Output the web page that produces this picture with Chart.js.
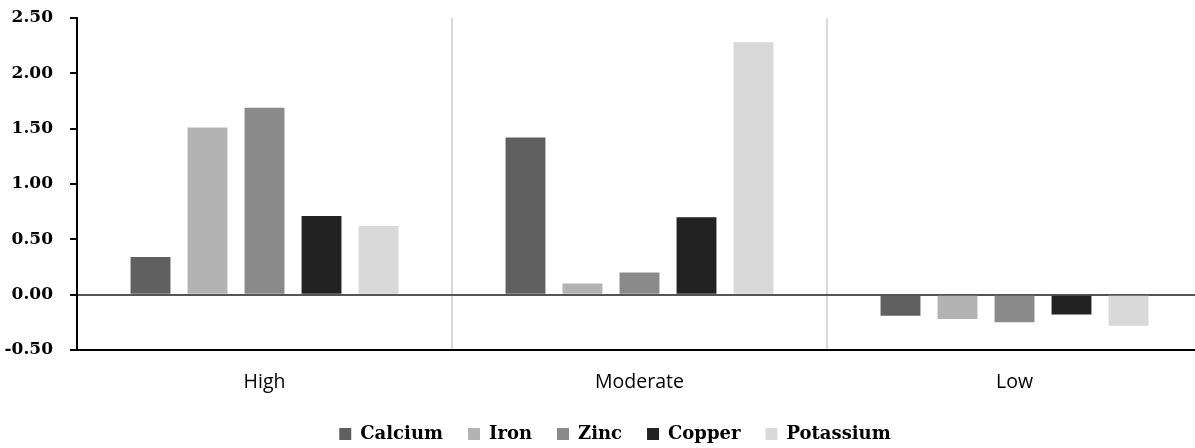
<!DOCTYPE html>
<html>
<head>
<meta charset="utf-8">
<script src="https://cdn.jsdelivr.net/npm/chart.js@4/dist/chart.umd.min.js"></script>
<style>
  html, body { margin: 0; padding: 0; background: #fff; overflow: hidden; }
  /* the original plot runs a few pixels past the right edge of the picture */
  #wrap { width: 1202px; height: 448px; }
</style>
</head>
<body>
<div id="wrap"><canvas id="myChart"></canvas></div>
<script>
// categories and values
const categories = ["High", "Moderate", "Low"];
const seriesNames = ["Calcium", "Iron", "Zinc", "Copper", "Potassium"];
const calcium = [0.34, 1.42, -0.19];
const iron = [1.51, 0.10, -0.22];
const zinc = [1.69, 0.20, -0.25];
const copper = [0.71, 0.70, -0.18];
const potassium = [0.62, 2.28, -0.28];
const yTicks = [-0.5, 0, 0.5, 1, 1.5, 2, 2.5];

const colors = ["#606060", "#b3b3b3", "#8a8a8a", "#222222", "#d9d9d9"];
const values = [calcium, iron, zinc, copper, potassium];

const datasets = seriesNames.map((name, i) => ({
    label: name,
    data: values[i],
    backgroundColor: colors[i],
    borderWidth: 0,
    categoryPercentage: 0.76,
    barPercentage: 0.70
}));

// legend in the original sits a bit right of the canvas centre
const legendShift = {
    id: "legendShift",
    afterLayout(chart) {
        if (chart.legend) {
            chart.legend.left += 14;
            chart.legend.right += 14;
        }
    }
};

const ctx = document.getElementById("myChart").getContext("2d");
const myChart = new Chart(ctx, {
    type: "bar",
    data: { labels: categories, datasets: datasets },
    plugins: [legendShift],
    options: {
        responsive: true,
        maintainAspectRatio: false,
        animation: false,
        layout: { padding: { top: 18, left: 0, right: 0, bottom: -5 } },
        plugins: {
            tooltip: { enabled: false },
            legend: {
                position: "bottom",
                labels: {
                    boxWidth: 12,
                    boxHeight: 12,
                    padding: 25,
                    color: "#000",
                    font: { family: "DejaVu Serif", weight: "bold", size: 18 }
                }
            }
        },
        scales: {
            x: {
                afterFit: axis => { axis.height = 50; },
                grid: {
                    color: "#d9d9d9",
                    lineWidth: 2,
                    drawTicks: false
                },
                border: { display: true, color: "#000", width: 2 },
                ticks: {
                    color: "#000",
                    padding: 21,
                    font: { family: "Open Sans", size: 19.5 }
                }
            },
            y: {
                min: -0.5,
                max: 2.5,
                afterFit: axis => {
                    axis.width = 77;
                    axis.paddingTop = 0;
                    axis.paddingBottom = 0;
                },
                afterBuildTicks: axis => { axis.ticks = yTicks.map(v => ({ value: v })); },
                grid: {
                    color: c => (c.tick && c.tick.value === 0) ? "#555" : "transparent",
                    lineWidth: 2,
                    tickColor: "#000",
                    tickLength: 7
                },
                border: { display: true, color: "#000", width: 2 },
                ticks: {
                    color: "#000",
                    padding: 17,
                    font: { family: "DejaVu Serif", weight: "bold", size: 17 },
                    callback: v => v.toFixed(2)
                }
            }
        }
    }
});
</script>
</body>
</html>
